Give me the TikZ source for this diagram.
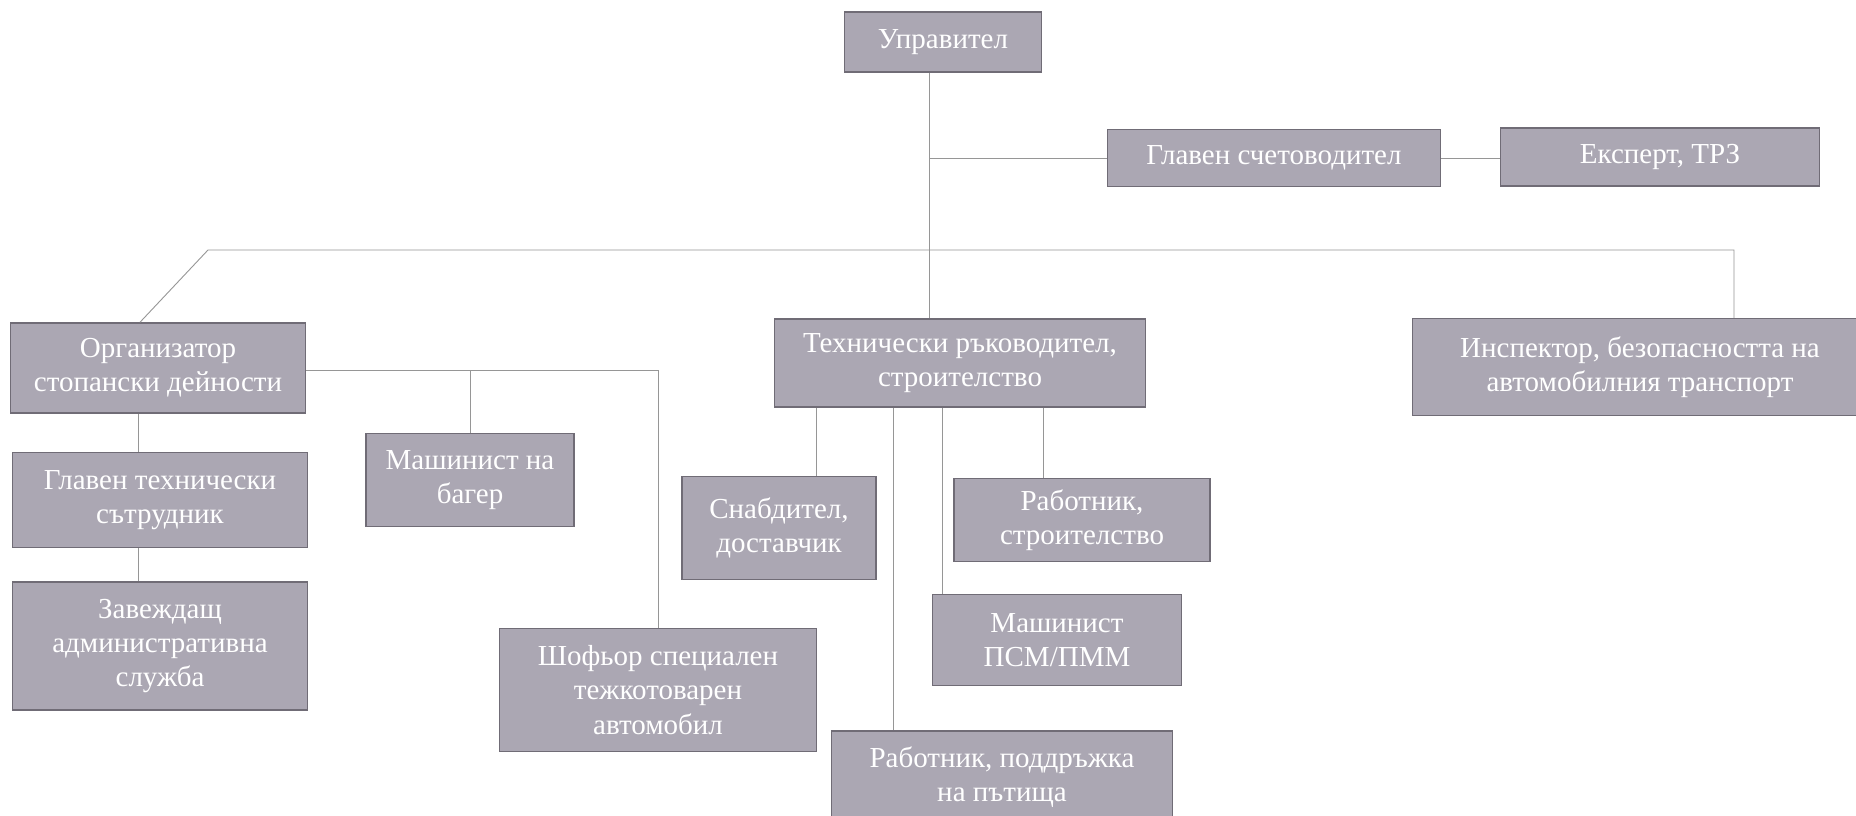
\documentclass[tikz,border=0pt]{standalone}
\usepackage{fontspec}
\setmainfont{Liberation Serif}
\usetikzlibrary{calc}
\definecolor{boxfill}{RGB}{171,167,179}
\definecolor{boxline}{RGB}{112,108,118}
\definecolor{linkgray}{RGB}{150,150,150}
\begin{document}
\begin{tikzpicture}[x=0.2mm, y=-0.2mm,
  box/.style={draw=boxline, fill=boxfill, text=white, line width=0.3mm,
    align=center, inner sep=0pt, font=\fontsize{16.5}{19.5}\selectfont},
  link/.style={draw=linkgray, line width=0.18mm}]
  \useasboundingbox (0,0) rectangle (1856,815);
  \fill[white] (0,0) rectangle (1856,815);

  % top
  \node[box, minimum width=39.4mm, minimum height=12mm] (upr) at (943,42) {Управител};
  \node[box, minimum width=66.6mm, minimum height=11.4mm] (glsch) at (1274,158) {Главен счетоводител};
  \node[box, minimum width=63.8mm, minimum height=11.6mm] (expert) at (1660,157) {Експерт, ТРЗ};

  % second row
  \node[box, minimum width=59mm, minimum height=18mm] (org) at (158,368) {Организатор\\стопански дейности};
  \node[box, minimum width=74.2mm, minimum height=17.6mm] (tech) at (960,363) {Технически ръководител,\\строителство};
  \node[box, minimum width=91mm, minimum height=19.4mm] (insp) at (1640,367) {Инспектор, безопасността на\\автомобилния транспорт};

  % left branch
  \node[box, minimum width=59mm, minimum height=19mm] (gltex) at (160,500) {Главен технически\\сътрудник};
  \node[box, minimum width=59mm, minimum height=25.6mm] (zav) at (160,646) {Завеждащ\\административна\\служба};
  \node[box, minimum width=41.6mm, minimum height=18.6mm] (bager) at (470,480) {Машинист на\\багер};
  \node[box, minimum width=63.4mm, minimum height=24.6mm] (shof) at (658,690) {Шофьор специален\\тежкотоварен\\автомобил};

  % under tech
  \node[box, minimum width=38.8mm, minimum height=20.6mm] (snab) at (779,528) {Снабдител,\\доставчик};
  \node[box, minimum width=51.2mm, minimum height=16.6mm] (rabstr) at (1082,520) {Работник,\\строителство};
  \node[box, minimum width=49.8mm, minimum height=18.2mm] (psm) at (1057,640) {Машинист\\ПСМ/ПММ};
  \node[box, minimum width=68.2mm, minimum height=18.4mm] (rabpat) at (1002,777) {Работник, поддръжка\\на пътища};

  % connectors
  \coordinate (trunk) at ([xshift=-2.7mm]upr.south);
  \coordinate (bar) at (0,250);
  \coordinate (leftx) at (138,0);
  \draw[link] (trunk) -- (trunk |- tech.north);
  \draw[link] (trunk |- glsch.west) -- (glsch.west);
  \draw[link] (glsch.east) -- (expert.west |- glsch.east);
  \draw[link] ([xshift=-3.6mm]org.north) -- (208,250) -- (1734,250) -- (1734,0 |- insp.north);
  \draw[link] (leftx |- org.south) -- (leftx |- gltex.north);
  \draw[link] (leftx |- gltex.south) -- (leftx |- zav.north);
  \coordinate (orgr) at ([yshift=-0.4mm]org.east);
  \draw[link] (orgr) -- (orgr -| shof.north) -- (shof.north);
  \draw[link] (orgr -| bager.north) -- (bager.north);
  \draw[link] (tech.south -| 816,0) -- (816,0 |- snab.north);
  \draw[link] (tech.south -| 893,0) -- (893,0 |- rabpat.north);
  \draw[link] (tech.south -| 942,0) -- (942,0 |- psm.north);
  \draw[link] (tech.south -| 1043,0) -- (1043,0 |- rabstr.north);
\end{tikzpicture}
\end{document}
